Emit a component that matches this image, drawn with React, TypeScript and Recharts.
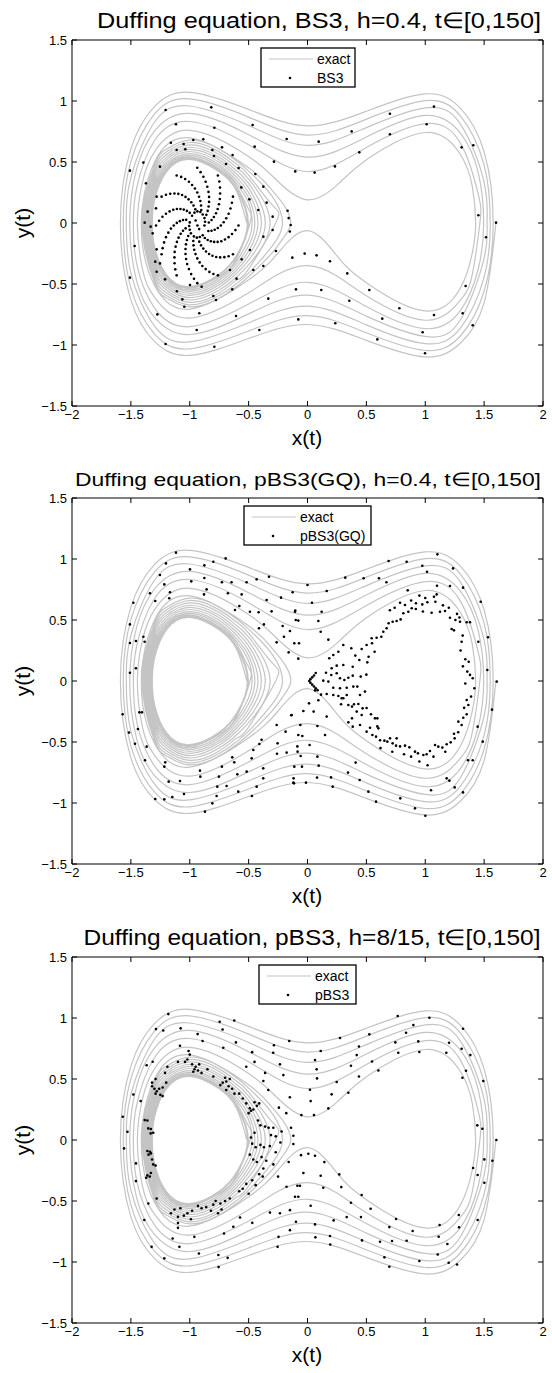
import React from 'react';
import { ScatterChart, Scatter, XAxis, YAxis, ReferenceLine } from 'recharts';

const X_TICKS = [-2, -1.5, -1, -0.5, 0, 0.5, 1, 1.5, 2];
const Y_TICKS = [-1.5, -1, -0.5, 0, 0.5, 1, 1.5];

const TITLES = [
  'Duffing equation, BS3, h=0.4, t\u2208[0,150]',
  'Duffing equation, pBS3(GQ), h=0.4, t\u2208[0,150]',
  'Duffing equation, pBS3, h=8/15, t\u2208[0,150]',
];
const METHODS = ['BS3', 'pBS3(GQ)', 'pBS3'];

// exact trajectory, outer turns around both wells (clockwise from x=1.6)
const EXACT_OUTER = [
  [1.6, 0], [1.5, -0.652], [1.3, -0.984], [1.0, -1.098], [0.5, -0.962], [0, -0.832],
  [-0.5, -0.947], [-1.0, -1.085], [-1.3, -0.97], [-1.5, -0.63], [-1.589, 0],
  [-1.5, 0.606], [-1.3, 0.954], [-1.0, 1.071], [-0.5, 0.931], [0, 0.796],
  [0.5, 0.916], [1.0, 1.058], [1.3, 0.939], [1.5, 0.582],
  [1.577, 0], [1.5, -0.557], [1.3, -0.924], [1.0, -1.045], [0.5, -0.9], [0, -0.76],
  [-0.5, -0.885], [-1, -1.031], [-1.3, -0.909], [-1.5, -0.532], [-1.565, 0],
  [-1.5, 0.503], [-1.3, 0.892], [-1, 1.017], [-0.5, 0.868], [0, 0.721],
  [0.5, 0.851], [1, 1.003], [1.3, 0.876], [1.5, 0.474],
  [1.552, 0], [1.5, -0.444], [1.3, -0.86], [1, -0.989], [0.5, -0.835], [0, -0.681],
  [-0.5, -0.818], [-1, -0.975], [-1.3, -0.844], [-1.5, -0.411], [-1.539, 0],
  [-1.5, 0.373], [-1.3, 0.826], [-1, 0.959], [-0.5, 0.799], [0, 0.637],
  [0.5, 0.782], [1, 0.944], [1.3, 0.809], [1.5, 0.333],
  [1.525, 0], [1.5, -0.288], [1.3, -0.791], [1, -0.93], [0.5, -0.763], [0, -0.592],
  [-0.5, -0.745], [-1, -0.914], [-1.3, -0.773], [-1.45, -0.478], [-1.51, 0],
  [-1.45, 0.445], [-1.3, 0.754], [-1, 0.898], [-0.5, 0.724], [0, 0.54],
  [0.5, 0.705], [1, 0.882], [1.3, 0.735], [1.45, 0.413],
  [1.496, 0], [1.45, -0.377], [1.3, -0.716], [1, -0.866], [0.5, -0.685], [0, -0.486],
  [-0.5, -0.664], [-1, -0.85], [-1.3, -0.696], [-1.45, -0.338], [-1.479, 0],
  [-1.45, 0.291], [-1.3, 0.674], [-1, 0.832], [-0.5, 0.641], [0, 0.422],
  [0.5, 0.619], [1, 0.815], [1.3, 0.653], [1.45, 0.237],
  [1.464, 0], [1.4, -0.419], [1.3, -0.631], [1, -0.797], [0.5, -0.596], [0.25, -0.434], [0, -0.349],
  [-0.25, -0.42], [-0.5, -0.572], [-1, -0.78], [-1.3, -0.608], [-1.4, -0.384], [-1.445, 0],
  [-1.4, 0.342], [-1.3, 0.583], [-1, 0.76], [-0.5, 0.545], [-0.25, 0.34], [0, 0.19],
  [0.25, 0.31], [0.5, 0.518], [1, 0.742], [1.3, 0.559], [1.4, 0.299],
  [1.428, 0], [1.4, -0.243], [1.3, -0.531], [1, -0.721], [0.5, -0.489], [0.25, -0.269], [0, -0.063],
  [-0.25, -0.246], [-0.5, -0.466], [-1, -0.706], [-1.3, -0.51], [-1.4, -0.193], [-1.411, 0],
  [-1.4, 0.159], [-1.3, 0.498], [-1, 0.697], [-0.5, 0.453], [-0.3, 0.268], [-0.2, 0.146],
];

// exact trajectory, captured turns in the left well
const EXACT_WELL = [
  [-0.142, 0], [-0.2, -0.115], [-0.3, -0.245], [-0.5, -0.439], [-0.6, -0.519], [-0.75, -0.615], [-1, -0.688], [-1.2, -0.614], [-1.3, -0.486], [-1.403, 0],
  [-1.3, 0.473], [-1.2, 0.604], [-1, 0.68], [-0.75, 0.605], [-0.6, 0.507], [-0.5, 0.425], [-0.3, 0.219],
  [-0.212, 0], [-0.3, -0.19], [-0.5, -0.411], [-0.6, -0.495], [-0.75, -0.595], [-1, -0.671], [-1.2, -0.594], [-1.3, -0.46], [-1.393, 0],
  [-1.3, 0.445], [-1.2, 0.582], [-1, 0.66], [-0.75, 0.583], [-0.6, 0.481], [-0.5, 0.393], [-0.3, 0.148],
  [-0.27, 0], [-0.5, -0.378], [-0.6, -0.468], [-0.75, -0.573], [-1, -0.651], [-1.2, -0.572], [-1.3, -0.431], [-1.383, 0],
  [-1.3, 0.415], [-1.2, 0.56], [-1, 0.64], [-0.75, 0.561], [-0.6, 0.453], [-0.5, 0.359],
  [-0.318, 0], [-0.5, -0.342], [-0.6, -0.44], [-0.75, -0.55], [-1, -0.631], [-1.2, -0.549], [-1.3, -0.4], [-1.373, 0],
  [-1.3, 0.385], [-1.2, 0.538], [-1, 0.621], [-0.75, 0.539], [-0.6, 0.426], [-0.5, 0.324],
  [-0.358, 0], [-0.5, -0.305], [-0.6, -0.411], [-0.75, -0.527], [-1, -0.612], [-1.2, -0.526], [-1.3, -0.369], [-1.364, 0],
  [-1.3, 0.355], [-1.2, 0.517], [-1, 0.603], [-0.75, 0.518], [-0.6, 0.399], [-0.5, 0.288],
  [-0.392, 0], [-0.5, -0.268], [-0.6, -0.385], [-0.75, -0.507], [-1, -0.594], [-1.2, -0.506], [-1.3, -0.339], [-1.354, 0],
  [-1.3, 0.324], [-1.2, 0.496], [-1, 0.586], [-0.75, 0.497], [-0.6, 0.372], [-0.5, 0.249],
  [-0.421, 0], [-0.5, -0.23], [-0.6, -0.359], [-0.75, -0.488], [-1, -0.578], [-1.2, -0.487], [-1.3, -0.31], [-1.346, 0],
  [-1.3, 0.293], [-1.2, 0.477], [-1, 0.569], [-0.75, 0.478], [-0.6, 0.345], [-0.5, 0.207],
  [-0.447, 0], [-0.5, -0.187], [-0.6, -0.333], [-0.75, -0.469], [-1, -0.562], [-1.2, -0.468], [-1.3, -0.279], [-1.338, 0],
  [-1.3, 0.265], [-1.2, 0.46], [-1, 0.555], [-0.75, 0.461], [-0.6, 0.321], [-0.5, 0.164],
  [-0.47, 0], [-0.5, -0.137], [-0.6, -0.309], [-0.75, -0.452], [-1, -0.548], [-1.2, -0.451], [-1.3, -0.249], [-1.331, 0],
  [-1.3, 0.237], [-1.2, 0.444], [-1, 0.542], [-0.75, 0.445], [-0.6, 0.299], [-0.5, 0.113],
  [-0.488, 0], [-0.6, -0.288], [-0.75, -0.438], [-1, -0.537], [-1.2, -0.437], [-1.3, -0.224], [-1.325, 0],
  [-1.3, 0.21], [-1.2, 0.43], [-1, 0.531], [-0.75, 0.432], [-0.6, 0.278],
  [-0.502, 0], [-0.6, -0.271], [-0.75, -0.427], [-1, -0.527], [-1.2, -0.426], [-1.3, -0.2], [-1.321, 0],
  [-1.3, 0.195], [-1.2, 0.423], [-1, 0.525], [-0.75, 0.424], [-0.6, 0.267],
  [-0.51, 0], [-0.6, -0.261], [-0.75, -0.421], [-1, -0.522], [-1.2, -0.42], [-1.3, -0.187], [-1.318, 0],
  [-1.3, 0.182], [-1.2, 0.417], [-1, 0.521], [-0.75, 0.419], [-0.6, 0.257], [-0.515, 0],
];

// BS3, h=0.4
const BS3_OUTER = [
  [1.074, 0.954], [0.7, 0.896], [1.012, 0.809], [0.375, 0.751], [0.7, 0.727], [0.095, 0.667], [0.44, 0.579],
  [0.233, 0.464], [-0.104, 0.423], [0.061, 0.413], [1.309, 0.62], [1.408, 0.637], [1.451, 0.063], [1.601, 0.003],
  [1.516, -0.117], [1.343, -0.516], [1.318, -0.74], [1.403, -0.839], [1.074, -0.754], [0.978, -0.896], [0.998, -1.068],
  [0.78, -0.699], [0.635, -0.784], [0.593, -0.954], [0.525, -0.549], [0.355, -0.637], [0.338, -0.413], [0.191, -0.314],
  [0.077, -0.265], [-0.024, -0.251], [-0.129, -0.284], [0.117, -0.549], [-0.098, -0.544], [0.236, -0.822], [-0.078, -0.79],
  [-1.205, 0.926], [-0.817, 0.948], [-1.117, 0.809], [-0.791, 0.781], [-0.466, 0.803], [-0.177, 0.689], [-0.285, 0.503],
  [-1.508, 0.429], [-1.394, 0.495], [-1.372, 0.325], [-1.468, -0.189], [-1.508, -0.448], [-1.275, -0.749], [-1.205, -0.992],
  [-0.941, -0.877], [-0.791, -1.014], [-0.607, -0.762], [-0.409, -0.877], [-0.333, -0.62], [-0.449, 0.626], [-0.169, 0.101],
  [-0.143, -0.016], [-0.16, 0.04], [-0.15, -0.07],
];
const BS3_BAND = [
  [-1.16, 0.658], [-1.052, 0.648], [-1.038, 0.604], [-0.885, 0.686], [-0.808, 0.598], [-0.794, 0.549], [-0.692, 0.484],
  [-0.636, 0.557], [-0.585, 0.451], [-0.443, 0.402], [-0.347, 0.167], [-0.296, 0.052], [-0.296, -0.057], [-0.268, -0.23],
  [-0.375, -0.352], [-0.46, -0.385], [-0.602, -0.456], [-0.639, -0.544], [-0.8, -0.598], [-0.777, -0.631], [-0.919, -0.74],
  [-1.046, -0.686], [-1.063, -0.626], [-1.109, -0.56], [-1.281, 0.216], [-1.287, 0.12], [-1.358, 0.093], [-1.383, 0.003],
  [-1.281, -0.216], [-1.293, -0.317], [-1.253, -0.331], [-1.281, -0.399], [-1.332, -0.03], [-1.315, -0.085], [-0.562, 0.292],
  [-0.494, 0.194], [-0.375, 0.298], [-0.418, 0.107], [-0.375, -0.112], [-0.489, -0.221], [-0.559, -0.298], [-0.658, -0.385],
  [-0.899, -0.522], [-0.998, -0.508], [-1.21, -0.462], [-1.253, 0.462], [-1.111, 0.598], [-0.97, 0.68], [-0.726, 0.62],
];
const BS3_CENTER = [
  [-0.838, 0.004], [-0.859, 0.067], [-0.902, 0.107], [-0.953, 0.113], [-1.0, 0.083], [-1.03, 0.026], [-1.035, -0.044],
  [-1.013, -0.107], [-0.97, -0.147], [-0.919, -0.153], [-0.872, -0.123], [-0.842, -0.066],
  [-0.815, 0.024], [-0.848, 0.099], [-0.904, 0.143], [-0.968, 0.143], [-1.024, 0.099], [-1.057, 0.024], [-1.057, -0.064],
  [-1.024, -0.139], [-0.968, -0.183], [-0.904, -0.183], [-0.848, -0.139], [-0.815, -0.064],
  [-0.795, 0.049], [-0.84, 0.135], [-0.91, 0.18], [-0.987, 0.17], [-1.051, 0.11], [-1.084, 0.015], [-1.077, -0.089],
  [-1.032, -0.175], [-0.962, -0.219], [-0.885, -0.21], [-0.821, -0.15], [-0.788, -0.055],
  [-0.777, 0.08], [-0.836, 0.173], [-0.921, 0.215], [-1.01, 0.194], [-1.079, 0.115], [-1.11, 0.001], [-1.095, -0.12],
  [-1.036, -0.213], [-0.951, -0.255], [-0.862, -0.234], [-0.793, -0.155], [-0.762, -0.041],
  [-0.736, -0.02], [-0.763, 0.115], [-0.836, 0.214], [-0.936, 0.25], [-1.036, 0.214], [-1.109, 0.115], [-1.136, -0.02],
  [-1.109, -0.155], [-1.036, -0.254], [-0.936, -0.29], [-0.836, -0.254], [-0.763, -0.155],
  [-0.712, 0.006], [-0.752, 0.154], [-0.841, 0.255], [-0.956, 0.283], [-1.065, 0.229], [-1.14, 0.109], [-1.16, -0.046],
  [-1.12, -0.194], [-1.031, -0.295], [-0.916, -0.323], [-0.807, -0.269], [-0.732, -0.149],
  [-0.69, 0.039], [-0.745, 0.197], [-0.851, 0.297], [-0.98, 0.312], [-1.097, 0.239], [-1.171, 0.095], [-1.182, -0.079],
  [-1.128, -0.237], [-1.022, -0.337], [-0.893, -0.352], [-0.775, -0.279], [-0.701, -0.135],
  [-0.67, 0.076], [-0.742, 0.242], [-0.865, 0.338], [-1.007, 0.338], [-1.13, 0.242], [-1.202, 0.076], [-1.202, -0.116],
  [-1.13, -0.282], [-1.007, -0.378], [-0.865, -0.378], [-0.742, -0.282], [-0.67, -0.116],
  [-0.654, 0.119], [-0.743, 0.29], [-0.884, 0.379], [-1.039, 0.361], [-1.166, 0.24], [-1.232, 0.051], [-1.218, -0.159],
  [-1.129, -0.33], [-0.988, -0.419], [-0.833, -0.401], [-0.706, -0.28], [-0.641, -0.09],
  [-0.642, 0.166], [-0.749, 0.34], [-0.908, 0.417], [-1.073, 0.378], [-1.202, 0.232], [-1.26, 0.018], [-1.23, -0.206],
  [-1.123, -0.38], [-0.964, -0.457], [-0.799, -0.418], [-0.67, -0.272], [-0.612, -0.058],
  [-0.586, -0.02], [-0.633, 0.216], [-0.761, 0.389], [-0.936, 0.453], [-1.111, 0.389], [-1.239, 0.216], [-1.286, -0.02],
  [-1.239, -0.256], [-1.111, -0.429], [-0.936, -0.493], [-0.761, -0.429], [-0.633, -0.256],
  [-0.98, 0.06], [-0.96, 0.085], [-0.935, 0.095], [-0.91, 0.09], [-0.89, 0.07], [-0.875, 0.04], [-0.87, 0.01], [-0.875, -0.02],
  [-0.89, -0.1], [-0.915, -0.115], [-0.94, -0.12], [-0.965, -0.11], [-0.99, -0.085], [-1.0, -0.055], [-1.005, -0.025],
  [-1.0, 0.005], [-0.935, -0.02], [-0.95, 0.02], [-0.92, -0.05],
];

// pBS3(GQ), h=0.4
const GQ_OUTER = [
  [-1.117, 1.052], [-1.202, 0.964], [-0.8, 0.978], [-0.695, 1.005], [-1.253, 0.869], [-0.998, 0.915], [-0.876, 0.948],
  [-0.432, 0.833], [-0.327, 0.855], [-1.338, 0.719], [-1.293, 0.656], [-1.216, 0.792], [-1.168, 0.727], [-1.174, 0.678],
  [-0.987, 0.817], [-0.876, 0.844], [-0.857, 0.751], [-0.879, 0.71], [-0.727, 0.809], [-0.645, 0.809], [-0.517, 0.809],
  [-0.676, 0.719], [-0.559, 0.71], [-0.347, 0.664], [-0.225, 0.683], [-0.305, 0.571], [-0.104, 0.577], [-0.579, 0.615],
  [-0.616, 0.582], [-0.489, 0.568], [-0.415, 0.563], [-0.37, 0.464], [-0.211, 0.451], [-0.078, 0.495], [-0.412, 0.432],
  [-0.262, 0.317], [-0.2, 0.363], [-0.16, 0.235], [-0.072, 0.309], [-0.078, 0.183], [-1.479, 0.642], [-1.508, 0.464],
  [-1.508, 0.311], [-1.457, 0.328], [-1.394, 0.363], [-1.383, 0.322], [-1.508, 0.068], [-1.457, 0.104], [-1.57, -0.273],
  [-1.428, -0.257], [-1.406, -0.257], [-1.516, -0.423], [-1.44, -0.393], [-1.465, -0.514], [-1.366, -0.538], [-1.38, -0.65],
  [-1.208, -0.667], [-1.216, -0.702], [-1.179, -0.825], [-1.083, -0.82], [-1.293, -0.967], [-1.216, -0.97], [-1.148, -0.951],
  [-1.049, -0.926], [-0.913, -0.735], [-0.91, -0.784], [-0.871, -1.071], [-0.808, -1.003], [-0.772, -0.943], [-0.752, -0.784],
  [-0.687, -0.861], [-0.639, -0.626], [-0.622, -0.667], [-0.474, -0.634], [-0.46, -0.566], [-0.409, -0.516], [-0.39, -0.481],
  [-0.254, -0.511], [-0.259, -0.596], [-0.177, -0.587], [-0.138, -0.281], [-0.186, -0.415], [-0.262, -0.361], [-0.078, -0.443],
  [-0.084, -0.579], [-0.112, -0.702], [-0.118, -0.798], [-0.115, -0.839], [-0.376, -0.716], [-0.376, -0.798], [-0.432, -0.866],
  [-0.472, -0.943], [-0.588, -0.907], [-0.766, -0.866], [-0.596, -0.765], [-0.517, -0.743], [-0.727, -0.702],
  [1.103, 1.038], [0.689, 0.984], [0.842, 0.978], [0.975, 0.945], [1.236, 0.923], [1.015, 0.896], [0.321, 0.847],
  [0.477, 0.842], [0.607, 0.842], [0.0, 0.787], [0.163, 0.738], [-0.126, 0.727], [0.67, 0.809], [0.851, 0.743],
  [1.1, 0.781], [1.21, 0.779], [1.321, 0.765], [1.471, 0.65], [0.038, 0.642], [0.12, 0.568], [-0.106, 0.568],
  [-0.1, 0.5], [0.092, 0.492], [-0.149, 0.41], [0.112, 0.404], [-0.112, 0.309], [0.177, 0.339], [1.451, 0.322],
  [1.533, 0.358], [1.527, 0.09], [1.607, -0.005], [1.567, -0.235], [1.445, -0.374], [1.488, -0.497], [1.403, -0.65],
  [1.363, -0.65], [1.321, -0.913], [1.25, -0.872], [1.205, -0.817], [1.049, -0.896], [1.182, -0.798], [1.001, -1.104],
  [0.913, -1.044], [0.788, -0.962], [0.582, -0.989], [0.517, -0.907], [0.443, -0.811], [0.409, -0.669], [0.344, -0.751],
  [0.2, -0.79], [0.214, -0.866], [-0.013, -0.833], [0.081, -0.792], [-0.12, -0.833], [0.095, -0.694], [-0.047, -0.702],
  [0.084, -0.62], [-0.058, -0.615], [0.018, -0.525], [-0.086, -0.536], [-0.044, -0.451], [-0.061, -0.361], [0.084, -0.369],
  [0.149, -0.443], [0.052, -0.251], [-0.035, -0.246], [-0.134, -0.279], [0.163, -0.292], [0.013, -0.183], [0.092, -0.158],
];
const GQ_RING = [
  [0.786, 0.642], [0.828, 0.623], [0.921, 0.637], [0.975, 0.628], [1.018, 0.645], [1.074, 0.691], [1.097, 0.71],
  [1.086, 0.65], [1.054, 0.56], [1.125, 0.568], [1.168, 0.574], [1.21, 0.519], [1.256, 0.5], [1.295, 0.486],
  [1.352, 0.481], [1.38, 0.481], [1.224, 0.426], [1.244, 0.415], [1.318, 0.372], [1.309, 0.322], [1.34, 0.178],
  [1.369, 0.158], [1.357, 0.077], [1.403, 0.022], [1.417, -0.06], [1.389, -0.128], [1.352, -0.156], [1.366, -0.197],
  [1.352, -0.273], [1.323, -0.301], [1.281, -0.333], [1.309, -0.361], [1.244, -0.432], [1.216, -0.503], [1.182, -0.519],
  [1.145, -0.546], [1.111, -0.538], [1.083, -0.525], [1.04, -0.574], [1.012, -0.601], [0.984, -0.607], [0.938, -0.593],
  [0.913, -0.579], [0.865, -0.544], [0.828, -0.53], [0.786, -0.536], [0.752, -0.53], [0.723, -0.511], [0.701, -0.47],
  [0.653, -0.489], [0.616, -0.486], [0.582, -0.456], [0.551, -0.443], [0.531, -0.383], [0.593, -0.372], [0.573, -0.306],
  [0.539, -0.273], [0.502, -0.221], [0.468, -0.224], [0.432, -0.189], [0.395, -0.191], [0.378, -0.21], [0.347, -0.197],
  [0.285, -0.191], [0.29, -0.142], [0.262, -0.123], [0.219, -0.115], [0.163, -0.107], [0.115, -0.112], [0.064, -0.077],
  [0.157, 0.068], [0.202, 0.049], [0.248, 0.063], [0.276, 0.022], [0.313, 0.008], [0.347, 0.027], [0.384, 0.044],
  [0.452, 0.036], [0.5, 0.052], [0.508, 0.153], [0.519, 0.199], [0.44, 0.172], [0.406, 0.208], [0.46, 0.262],
  [0.502, 0.295], [0.545, 0.35], [0.587, 0.355], [0.627, 0.363], [0.644, 0.404], [0.672, 0.432], [0.689, 0.473],
  [0.723, 0.486], [0.757, 0.492], [0.791, 0.505], [0.814, 0.555], [0.856, 0.568], [0.885, 0.596], [0.372, 0.268],
  [0.304, 0.295], [0.262, 0.24], [0.219, 0.213], [0.185, 0.186], [0.384, 0.117], [0.304, 0.131], [0.248, 0.126],
  [0.205, 0.104], [0.423, -0.046], [0.389, -0.046], [0.333, -0.055], [0.276, -0.06], [0.219, -0.055], [0.177, -0.005],
  [0.134, 0.003], [0.446, -0.115], [0.488, -0.087], [0.333, -0.115], [0.304, -0.142], [0.418, -0.251], [0.46, -0.279],
  [0.378, -0.306], [0.347, -0.339], [0.384, -0.374], [0.446, -0.361], [0.502, -0.415], [0.602, -0.388], [0.593, -0.306],
  [0.678, -0.497], [0.757, -0.47], [0.548, 0.309], [0.57, 0.24],
  [0.7, 0.58], [0.74, 0.6], [0.88, 0.66], [0.95, 0.7], [1.0, 0.68], [1.15, 0.62], [1.2, 0.6], [1.27, 0.55],
  [1.29, 0.52], [0.98, 0.57], [0.92, 0.59], [0.82, -0.6], [0.88, -0.62], [0.95, -0.66], [1.02, -0.69], [1.07, -0.62],
  [1.17, -0.58], [1.25, -0.47], [1.28, -0.42], [0.72, -0.58], [0.62, -0.55], [1.3, 0.25], [1.32, 0.12], [1.34, -0.02],
  [1.38, 0.05], [1.33, -0.22],
  [0.07, 0.065], [0.055, 0.045], [0.04, 0.03], [0.025, 0.015], [0.015, 0.0], [0.025, -0.015], [0.04, -0.03],
  [0.055, -0.045], [0.07, -0.06], [0.085, -0.075],
];

// pBS3, h=8/15
const P3_OUTER = [
  [-1.182, 1.032], [-1.287, 0.909], [-1.225, 0.898], [-1.077, 0.915], [-0.746, 0.969], [-0.622, 0.98], [-0.721, 0.906],
  [-0.933, 0.868], [-0.891, 0.811], [-1.083, 0.773], [-0.608, 0.8], [-0.715, 0.756], [-1.366, 0.613], [-1.315, 0.641],
  [-1.479, 0.373], [-1.417, 0.319], [-1.569, 0.191], [-1.529, 0.067], [-1.558, -0.069], [-1.457, -0.192], [-1.457, -0.337],
  [-1.383, 0.163], [-1.352, 0.095], [-1.332, 0.054], [-1.338, -0.096],
  [-1.386, -0.656], [-1.352, -0.52], [-1.281, -0.479], [-1.324, -0.876], [-1.216, -0.97], [-1.145, -0.807], [-1.088, -0.876],
  [-0.961, -0.794], [-0.922, -0.93], [-0.757, -0.943], [-0.755, -1.042], [-0.678, -0.966], [-0.709, -0.766], [-0.63, -0.711],
  [-0.573, -0.635], [-0.469, -0.679], [-0.319, -0.595], [-0.234, -0.601], [-0.254, -0.876], [-0.246, -0.794], [-0.149, -0.739],
  [-0.098, -0.67], [-0.149, -0.575], [-0.078, -0.465], [-0.178, -0.383], [-0.086, -0.375], [-0.375, -0.233], [-0.285, 0.777],
  [-0.291, 0.715], [-0.234, 0.62], [-0.205, 0.532], [-0.155, 0.811], [-0.375, 0.483], [-0.333, 0.41], [-0.243, 0.265],
  [-0.47, 0.72], [-0.45, 0.64], [-0.52, 0.6], [-0.36, 0.55], [-0.15, 0.35], [-0.18, 0.22], [-0.14, 0.1], [-0.16, -0.18],
  [-0.25, -0.3],
  [0.766, 1.016], [1.035, 1.002], [0.899, 0.942], [0.837, 0.879], [0.525, 0.866], [0.276, 0.836], [1.321, 0.912],
  [0.746, 0.8], [0.941, 0.808], [0.437, 0.767], [0.112, 0.729], [1.202, 0.797], [1.309, 0.748], [1.383, 0.696],
  [0.771, 0.715], [0.95, 0.721], [1.179, 0.715], [0.418, 0.696], [0.064, 0.655], [0.369, 0.609], [0.548, 0.644],
  [0.602, 0.57], [0.078, 0.579], [1.346, 0.568], [0.437, 0.521], [0.248, 0.475], [0.081, 0.505], [1.316, 0.51],
  [1.493, 0.483], [0.021, 0.412], [0.205, 0.374], [0.347, 0.387], [0.027, 0.319], [0.177, 0.259], [-0.052, 0.204],
  [0.055, 0.204], [1.442, 0.12], [1.485, 0.092], [1.604, 0.0], [1.502, -0.159], [1.57, -0.17], [1.406, -0.23],
  [1.445, -0.287], [1.502, -0.35], [-0.12, 0.035], [-0.12, -0.033], [-0.055, -0.124], [0.007, -0.113], [0.064, -0.129],
  [0.143, -0.181], [-0.035, -0.271], [0.112, -0.293], [0.27, -0.282], [-0.064, -0.375], [0.134, -0.391], [0.287, -0.386],
  [0.46, -0.451], [-0.106, -0.465], [0.027, -0.539], [0.369, -0.514], [0.536, -0.563], [0.222, -0.659], [0.064, -0.692],
  [0.333, -0.632], [0.454, -0.632], [0.695, -0.714], [0.752, -0.648], [0.893, -0.746], [1.122, -0.697], [1.287, -0.716],
  [1.285, -0.615], [1.445, -0.656], [1.114, -0.793], [1.188, -0.853], [1.106, -0.938], [0.95, -0.992], [1.199, -1.006],
  [1.27, -1.02], [0.653, -0.962], [0.695, -1.039], [0.463, -0.823], [0.616, -0.834], [0.718, -0.828], [0.842, -0.826],
  [0.191, -0.787], [0.193, -0.856], [0.067, -0.798],
];
const P3_BAND = [
  [-1.02, 0.66], [-1.0, 0.7], [-1.01, 0.73], [-0.98, 0.62], [-0.96, 0.58], [-0.97, 0.56], [-0.95, 0.6], [-0.93, 0.57],
  [-0.9, 0.55], [-1.04, 0.64], [-0.92, 0.62], [-0.85, 0.58], [-0.8, 0.52],
  [-0.74, 0.45], [-0.72, 0.47], [-0.7, 0.51], [-0.69, 0.48], [-0.67, 0.44], [-0.66, 0.5], [-0.64, 0.42], [-0.69, 0.41],
  [-0.62, 0.38], [-0.58, 0.38], [-0.55, 0.34], [-0.52, 0.3], [-0.49, 0.26], [-0.48, 0.24], [-0.46, 0.25], [-0.5, 0.22],
  [-0.45, 0.31], [-0.43, 0.28], [-0.41, 0.3],
  [-0.42, 0.16], [-0.4, 0.12], [-0.36, 0.11], [-0.33, 0.1], [-0.29, 0.1], [-0.31, 0.04], [-0.27, 0.03], [-0.45, 0.06],
  [-0.48, 0.02], [-0.47, -0.03], [-0.44, -0.06], [-0.4, -0.04], [-0.37, -0.06], [-0.32, -0.05], [-0.27, -0.1], [-0.23, -0.02],
  [-0.22, 0.07], [-0.49, -0.12], [-0.46, -0.16], [-0.43, -0.18], [-0.39, -0.14], [-0.35, -0.17], [-0.29, -0.2], [-0.41, -0.28],
  [-0.38, -0.3], [-0.47, -0.33], [-0.52, -0.36], [-0.55, -0.4], [-0.58, -0.42], [-0.5, -0.44], [-0.44, -0.37],
  [-0.66, -0.48], [-0.7, -0.5], [-0.74, -0.52], [-0.78, -0.5], [-0.8, -0.53], [-0.82, -0.58], [-0.76, -0.6], [-0.73, -0.57],
  [-0.86, -0.55], [-0.9, -0.56], [-0.93, -0.54], [-0.98, -0.58], [-0.99, -0.65], [-1.02, -0.6], [-1.08, -0.56], [-1.1, -0.63],
  [-1.1, -0.68], [-1.1, -0.72], [-1.13, -0.57], [-1.16, -0.6], [-1.05, -0.62],
  [-1.33, -0.27], [-1.34, -0.3], [-1.36, -0.29], [-1.37, -0.31], [-1.31, -0.2], [-1.32, -0.16], [-1.33, -0.11], [-1.35, -0.12],
  [-1.36, -0.09], [-1.31, 0.06], [-1.33, 0.09], [-1.36, 0.16], [-1.29, -0.21],
  [-1.3, 0.42], [-1.28, 0.4], [-1.32, 0.44], [-1.26, 0.42], [-1.23, 0.43], [-1.29, 0.38], [-1.25, 0.37], [-1.23, 0.36],
  [-1.2, 0.47], [-1.29, 0.5], [-1.32, 0.47], [-1.21, 0.55], [-1.19, 0.6], [-1.1, 0.64],
];

const toXY = (pts: number[][]) => pts.map(([x, y]) => ({ x, y }));

const EXACT = toXY([...EXACT_OUTER, ...EXACT_WELL]);
const PANEL_DOTS = [
  toXY([...BS3_OUTER, ...BS3_BAND, ...BS3_CENTER]),
  toXY([...GQ_OUTER, ...GQ_RING]),
  toXY([...P3_OUTER, ...P3_BAND]),
];

const FONT = '"Liberation Sans", Arial, Helvetica, sans-serif';
const GREY = '#c4c4c4';
const fmt = (v: number) => String(v).replace('-', '\u2212');

const PANEL_TOP = [0, 458, 917];
const TITLE_FONT = [22, 19, 22];
const TITLE_X = [319, 308, 312];
const TITLE_LEN = [444, 466, 457];
const LEGEND_X = [261, 244, 259];
const LEGEND_W = [94, 127, 97];

const Dot = (p: any) => <circle cx={p.cx} cy={p.cy} r={1.3} fill="#000" />;
const NoDot = () => <g />;

function Panel({ i }: { i: number }) {
  const lx = LEGEND_X[i];
  return (
    <div style={{ position: 'absolute', left: 0, top: PANEL_TOP[i], width: 552, height: 458 }}>
      <ScatterChart width={552} height={458} margin={{ top: 40, right: 9, bottom: 0, left: 0 }}>
        <XAxis
          type="number"
          dataKey="x"
          domain={[-2, 2]}
          ticks={X_TICKS}
          tickFormatter={fmt}
          height={52}
          tickSize={-5}
          tickMargin={9}
          allowDataOverflow
          stroke="#000"
          tick={{ fill: '#000', fontSize: 13, fontFamily: FONT }}
        />
        <YAxis
          type="number"
          dataKey="y"
          domain={[-1.5, 1.5]}
          ticks={Y_TICKS}
          tickFormatter={fmt}
          width={72}
          tickSize={-5}
          tickMargin={10}
          allowDataOverflow
          stroke="#000"
          tick={{ fill: '#000', fontSize: 13, fontFamily: FONT }}
        />
        <ReferenceLine y={1.5} stroke="#000" />
        <ReferenceLine x={2} stroke="#000" />
        {X_TICKS.map((t) => (
          <ReferenceLine key={'tx' + t} segment={[{ x: t, y: 1.5 }, { x: t, y: 1.459 }]} stroke="#000" />
        ))}
        {Y_TICKS.map((t) => (
          <ReferenceLine key={'ty' + t} segment={[{ x: 2, y: t }, { x: 1.958, y: t }]} stroke="#000" />
        ))}
        <Scatter
          data={EXACT}
          line={{ stroke: GREY, strokeWidth: 1.2 }}
          lineJointType="natural"
          shape={NoDot}
          isAnimationActive={false}
        />
        <Scatter data={PANEL_DOTS[i]} fill="#000" shape={Dot} isAnimationActive={false} />
      </ScatterChart>
      <svg width={552} height={458} style={{ position: 'absolute', left: 0, top: 0, pointerEvents: 'none' }}>
        <text
          x={TITLE_X[i]}
          y={28}
          textAnchor="middle"
          fontFamily={FONT}
          fontSize={TITLE_FONT[i]}
          textLength={TITLE_LEN[i]}
          lengthAdjust="spacingAndGlyphs"
        >
          {TITLES[i]}
        </text>
        <text x={307} y={445} textAnchor="middle" fontFamily={FONT} fontSize={21}>
          x(t)
        </text>
        <text x={30} y={223} textAnchor="middle" fontFamily={FONT} fontSize={21} transform="rotate(-90 30 223)">
          y(t)
        </text>
        <rect x={lx} y={48} width={LEGEND_W[i]} height={39} fill="#fff" stroke="#000" strokeWidth={1.3} />
        <line x1={lx + 8} x2={lx + 52} y1={59} y2={59} stroke={GREY} strokeWidth={1.2} />
        <circle cx={lx + 29} cy={78} r={1.3} fill="#000" />
        <text x={lx + 56} y={64} fontFamily={FONT} fontSize={14}>
          exact
        </text>
        <text x={lx + 56} y={83} fontFamily={FONT} fontSize={14}>
          {METHODS[i]}
        </text>
      </svg>
    </div>
  );
}

export default function App() {
  return (
    <div style={{ position: 'absolute', left: 0, top: 0, width: 552, height: 1373, background: '#fff' }}>
      {[0, 1, 2].map((i) => (
        <Panel key={i} i={i} />
      ))}
    </div>
  );
}
